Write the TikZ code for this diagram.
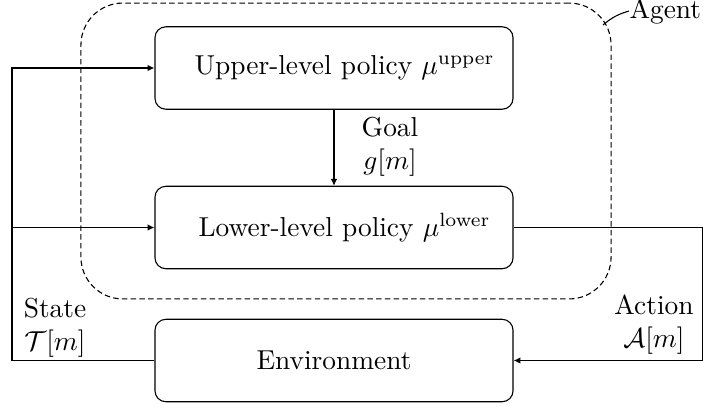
\documentclass[tikz,border=0pt]{standalone}
\usetikzlibrary{arrows.meta}
\begin{document}
\begin{tikzpicture}[x=0.365pt,y=-0.365pt,
  line width=0.4pt,
  blk/.style={draw, rounded corners=4pt, minimum width=130.7pt, minimum height=30.1pt, inner sep=0pt},
  agentbox/.style={draw, dash pattern=on 2pt off 1.2pt, rounded corners=15.3pt, minimum width=193.5pt, minimum height=108pt, inner sep=0pt},
  arr/.style={-{Latex[length=2.5pt,width=2.4pt]}},
  lbl/.style={align=center, inner sep=0pt}]
\useasboundingbox (0,0) rectangle (703,406);
\node[agentbox] (agent) at (346,151) {};
\node[blk] (up) at (334,68) {\hspace*{7.7pt}Upper-level policy $\mu^{\mathrm{upper}}$};
\node[blk] (low) at (334,227.5) {\hspace*{7.7pt}Lower-level policy $\mu^{\mathrm{lower}}$};
\node[blk] (env) at (334,360.5) {Environment};
\node[anchor=base west, inner sep=0pt] (agentlbl) at (629,18) {Agent};
\coordinate (pinpt) at (603,25);
\draw (pinpt) to[bend left=12] (agentlbl.west);
\coordinate (tl) at (12,68);
\coordinate (tr) at (702.3,227.5);
\draw[arr] (env.west) -| (tl) -- (up.west);
\draw[arr] (tl |- low.west) -- (low.west);
\draw[arr] (low.east) -- (tr) |- (env.east);
\draw[arr] (up) -- (low);
\node[lbl] (goal) at (390,147) {Goal\\$g[m]$};
\node[lbl] (state) at (55,328) {State\\$\mathcal{T}[m]$};
\node[lbl] (action) at (654,325) {Action\\$\mathcal{A}[m]$};
\end{tikzpicture}
\end{document}
